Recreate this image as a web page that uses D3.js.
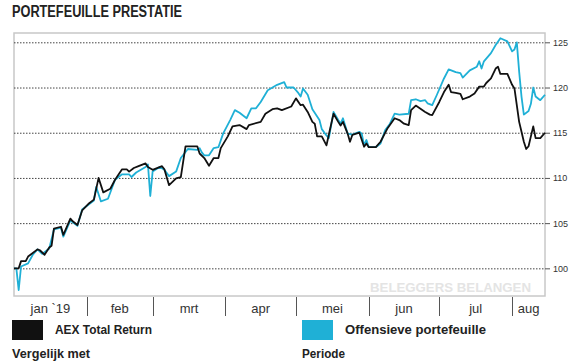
<!DOCTYPE html>
<head>
  <meta charset="utf-8">
  <script src="https://cdn.jsdelivr.net/npm/d3@7"></script>
  <style>
    body { margin: 0; background: white; }
    text { font-family: "Liberation Sans", Arial, sans-serif; }
    .narrow { font-family: "Liberation Sans Narrow", "Arial Narrow", "Liberation Sans", sans-serif; font-weight: bold; fill: #222; }
  </style>
</head>
<body>
  <div id="chartDiv"></div>
  <script>

  // AEX Total Return (zwart)
  var aexDates = ["2019-01-01","2019-01-03","2019-01-04","2019-01-06","2019-01-07","2019-01-11","2019-01-12","2019-01-14","2019-01-16","2019-01-17",
    "2019-01-18","2019-01-21","2019-01-22","2019-01-25","2019-01-26","2019-01-28","2019-01-30","2019-02-02","2019-02-04","2019-02-06",
    "2019-02-08","2019-02-11","2019-02-13","2019-02-16","2019-02-18","2019-02-19","2019-02-21","2019-02-23","2019-02-26","2019-02-27",
    "2019-03-01","2019-03-05","2019-03-06","2019-03-08","2019-03-11","2019-03-13","2019-03-15","2019-03-20","2019-03-21","2019-03-23",
    "2019-03-25","2019-03-27","2019-03-29","2019-03-30","2019-04-02","2019-04-04","2019-04-07","2019-04-10","2019-04-11","2019-04-16",
    "2019-04-18","2019-04-21","2019-04-23","2019-04-25","2019-04-29","2019-05-01","2019-05-03","2019-05-04","2019-05-06","2019-05-08",
    "2019-05-09","2019-05-10","2019-05-12","2019-05-14","2019-05-15","2019-05-17","2019-05-19","2019-05-20","2019-05-21","2019-05-23",
    "2019-05-24","2019-05-25","2019-05-28","2019-05-30","2019-05-31","2019-06-01","2019-06-04","2019-06-06","2019-06-09","2019-06-12",
    "2019-06-14","2019-06-16","2019-06-18","2019-06-19","2019-06-21","2019-06-25","2019-06-27","2019-06-28","2019-07-01","2019-07-03",
    "2019-07-05","2019-07-06","2019-07-08","2019-07-10","2019-07-11","2019-07-14","2019-07-16","2019-07-18","2019-07-20","2019-07-21",
    "2019-07-23","2019-07-25","2019-07-26","2019-07-27","2019-07-30","2019-08-01","2019-08-02","2019-08-04","2019-08-05","2019-08-06",
    "2019-08-07","2019-08-08","2019-08-10","2019-08-11","2019-08-13","2019-08-15"];
  var aexValues = [100.0,100.0,100.8,100.8,101.3,102.1,102.0,101.5,102.3,102.5,
    104.4,104.6,103.7,105.5,105.2,104.8,106.4,107.2,107.6,110.0,
    108.4,108.8,109.8,110.95,110.95,110.7,111.1,111.3,111.6,111.2,
    110.9,111.3,110.95,109.2,109.95,110.1,113.5,113.5,112.7,112.2,
    111.35,112.2,112.2,113.3,114.6,115.7,115.85,115.4,115.85,116.2,
    117.1,117.6,117.7,117.5,117.9,118.8,118.05,118.1,117.3,116.2,
    116.0,114.6,114.6,113.6,114.8,117.1,116.2,115.8,116.2,114.9,
    114.0,114.75,115.0,113.45,113.8,113.4,113.4,114.0,115.5,116.6,
    116.4,116.0,115.85,117.5,118.0,117.3,117.0,116.95,118.4,119.5,
    120.3,119.5,119.4,119.3,118.7,119.0,119.35,120.1,120.1,120.5,
    121.0,122.1,122.3,121.5,121.5,120.3,119.9,116.2,115.1,114.0,
    113.2,113.5,115.7,114.4,114.4,115.0];

  // Offensieve portefeuille (blauw)
  var offDates = ["2019-01-01","2019-01-02","2019-01-03","2019-01-04","2019-01-07","2019-01-09","2019-01-11","2019-01-13","2019-01-16","2019-01-18",
    "2019-01-21","2019-01-22","2019-01-25","2019-01-28","2019-01-30","2019-02-04","2019-02-05","2019-02-07","2019-02-10","2019-02-13",
    "2019-02-16","2019-02-19","2019-02-20","2019-02-22","2019-02-26","2019-02-27","2019-02-28","2019-03-01","2019-03-04","2019-03-06",
    "2019-03-08","2019-03-11","2019-03-13","2019-03-16","2019-03-20","2019-03-21","2019-03-22","2019-03-23","2019-03-25","2019-03-27",
    "2019-03-29","2019-03-31","2019-04-03","2019-04-05","2019-04-07","2019-04-10","2019-04-12","2019-04-14","2019-04-16","2019-04-19",
    "2019-04-23","2019-04-26","2019-04-27","2019-04-30","2019-05-02","2019-05-03","2019-05-04","2019-05-06","2019-05-08","2019-05-11",
    "2019-05-12","2019-05-14","2019-05-15","2019-05-17","2019-05-19","2019-05-20","2019-05-21","2019-05-23","2019-05-25","2019-05-28",
    "2019-05-29","2019-05-30","2019-05-31","2019-06-01","2019-06-04","2019-06-06","2019-06-08","2019-06-10","2019-06-12","2019-06-14",
    "2019-06-18","2019-06-19","2019-06-21","2019-06-23","2019-06-25","2019-06-26","2019-06-28","2019-06-30","2019-07-03","2019-07-05",
    "2019-07-08","2019-07-10","2019-07-11","2019-07-14","2019-07-17","2019-07-18","2019-07-19","2019-07-20","2019-07-23","2019-07-25",
    "2019-07-27","2019-07-30","2019-08-01","2019-08-02","2019-08-03","2019-08-04","2019-08-05","2019-08-06","2019-08-08","2019-08-09",
    "2019-08-10","2019-08-11","2019-08-13","2019-08-15"];
  var offValues = [100.0,100.0,97.6,100.2,100.55,101.5,102.1,101.6,102.2,104.3,
    104.5,103.5,105.3,104.7,106.5,107.5,109.0,107.4,107.7,109.8,
    110.4,110.4,110.1,110.6,111.2,111.5,108.0,110.7,111.2,110.9,
    110.2,110.7,112.2,113.2,113.1,113.3,112.8,112.5,112.5,113.3,
    113.4,114.9,116.4,117.5,117.2,116.6,117.7,117.7,118.4,119.7,
    120.3,120.6,120.0,120.0,119.4,119.0,119.9,119.2,117.6,116.4,
    115.4,114.7,114.4,117.3,116.4,116.0,116.6,114.9,114.8,115.1,
    114.9,113.6,114.2,113.4,113.4,113.8,115.3,116.0,117.1,117.0,
    117.1,118.6,118.7,118.5,118.6,118.25,118.05,119.2,121.0,122.0,
    121.7,121.6,121.1,121.9,122.3,122.9,122.1,122.9,123.8,124.7,
    125.45,125.1,124.0,124.2,125.0,121.75,119.0,117.0,117.4,118.2,
    120.0,119.0,118.6,119.2];

  var yTicks = [100, 105, 110, 115, 120, 125];
  var monthStarts = ["2019-01-01","2019-02-01","2019-03-01","2019-04-01","2019-05-01","2019-06-01","2019-07-01","2019-08-01","2019-08-15"];
  var monthLabels = ["jan `19","feb","mrt","apr","mei","jun","jul","aug"];

  var legendNames = ["AEX Total Return", "Offensieve portefeuille"];
  var legendColors = ["#111111", "#1fb0d6"];

  var width = 574;
  var height = 362;
  var parseDate = d3.utcParse("%Y-%m-%d");

  var svg = d3.select("#chartDiv").append("svg")
    .attr("width", width)
    .attr("height", height);

  var x = d3.scaleUtc()
    .domain([parseDate("2019-01-01"), parseDate("2019-08-15")])
    .range([14, 545]);

  var y = d3.scaleLinear()
    .domain([96.94, 126.03])
    .range([296, 33]);

  // titel
  svg.append("text")
    .attr("class", "narrow")
    .attr("x", 12)
    .attr("y", 17)
    .attr("textLength", 170)
    .attr("lengthAdjust", "spacingAndGlyphs")
    .style("font-size", "16px")
    .text("PORTEFEUILLE PRESTATIE");

  // watermerk
  svg.append("text")
    .attr("x", 531)
    .attr("y", 292)
    .attr("text-anchor", "end")
    .attr("textLength", 161)
    .attr("lengthAdjust", "spacingAndGlyphs")
    .style("font-size", "13px")
    .style("font-weight", "bold")
    .style("fill", "#e4e4e4")
    .text("BELEGGERS BELANGEN");

  // rand
  svg.append("rect")
    .attr("x", x.range()[0])
    .attr("y", y.range()[1])
    .attr("width", x.range()[1] - x.range()[0])
    .attr("height", y.range()[0] - y.range()[1])
    .style("fill", "none")
    .style("stroke", "#c8c8c8")
    .style("stroke-width", 1.5);

  // rasterlijnen + labels rechts
  var yAxis = d3.axisRight(y)
    .tickValues(yTicks)
    .tickSize(5)
    .tickPadding(3);

  var yG = svg.append("g")
    .attr("transform", "translate(545,0)")
    .call(yAxis);
  yG.select(".domain").remove();
  yG.selectAll(".tick line").style("stroke", "#555");
  yG.selectAll(".tick text")
    .style("font-size", "9px")
    .style("fill", "#333")
    .style("font-family", "'Liberation Sans', Arial, sans-serif");

  svg.append("g").selectAll("line")
    .data(yTicks)
    .enter()
    .append("line")
    .attr("x1", x.range()[0])
    .attr("x2", x.range()[1])
    .attr("y1", function(d) { return y(d) + 0.5; })
    .attr("y2", function(d) { return y(d) + 0.5; })
    .style("stroke", "#444")
    .style("stroke-width", 1)
    .style("stroke-dasharray", "1.5,1.5");

  // maanden
  var months = monthStarts.map(parseDate);

  svg.append("g").selectAll("line")
    .data(months.slice(1, months.length - 1))
    .enter()
    .append("line")
    .attr("x1", function(d) { return Math.round(x(d)) + 0.5; })
    .attr("x2", function(d) { return Math.round(x(d)) + 0.5; })
    .attr("y1", 297)
    .attr("y2", 316)
    .style("stroke", "#555")
    .style("stroke-width", 1);

  svg.append("g").selectAll("text")
    .data(monthLabels)
    .enter()
    .append("text")
    .attr("x", function(d, i) { return (x(months[i]) + x(months[i + 1])) / 2; })
    .attr("y", 313)
    .attr("text-anchor", "middle")
    .style("font-size", "13px")
    .style("fill", "#333")
    .text(function(d) { return d; });

  // lijnen
  var line = d3.line()
    .x(function(d) { return x(d.date); })
    .y(function(d) { return y(d.value); });

  var aexData = aexDates.map(function(d, i) { return { date: parseDate(d), value: aexValues[i] }; });
  var offData = offDates.map(function(d, i) { return { date: parseDate(d), value: offValues[i] }; });

  svg.append("path")
    .datum(offData)
    .attr("d", line)
    .style("fill", "none")
    .style("stroke", legendColors[1])
    .style("stroke-width", 1.8)
    .style("stroke-linejoin", "round");

  svg.append("path")
    .datum(aexData)
    .attr("d", line)
    .style("fill", "none")
    .style("stroke", legendColors[0])
    .style("stroke-width", 1.8)
    .style("stroke-linejoin", "round");

  // legenda
  var legendX = [12, 302];
  var legendW = [97, 141];

  legendNames.forEach(function(name, i) {
    svg.append("rect")
      .attr("x", legendX[i])
      .attr("y", 320)
      .attr("width", 31)
      .attr("height", 20)
      .style("fill", legendColors[i]);

    svg.append("text")
      .attr("class", "narrow")
      .attr("x", legendX[i] + 43)
      .attr("y", 334)
      .attr("textLength", legendW[i])
      .attr("lengthAdjust", "spacingAndGlyphs")
      .style("font-size", "13px")
      .text(name);
  });

  svg.append("text")
    .attr("class", "narrow")
    .attr("x", 12)
    .attr("y", 358)
    .attr("textLength", 78)
    .attr("lengthAdjust", "spacingAndGlyphs")
    .style("font-size", "13px")
    .text("Vergelijk met");

  svg.append("text")
    .attr("class", "narrow")
    .attr("x", 302)
    .attr("y", 358)
    .attr("textLength", 43)
    .attr("lengthAdjust", "spacingAndGlyphs")
    .style("font-size", "13px")
    .text("Periode");

  </script>
</body>
